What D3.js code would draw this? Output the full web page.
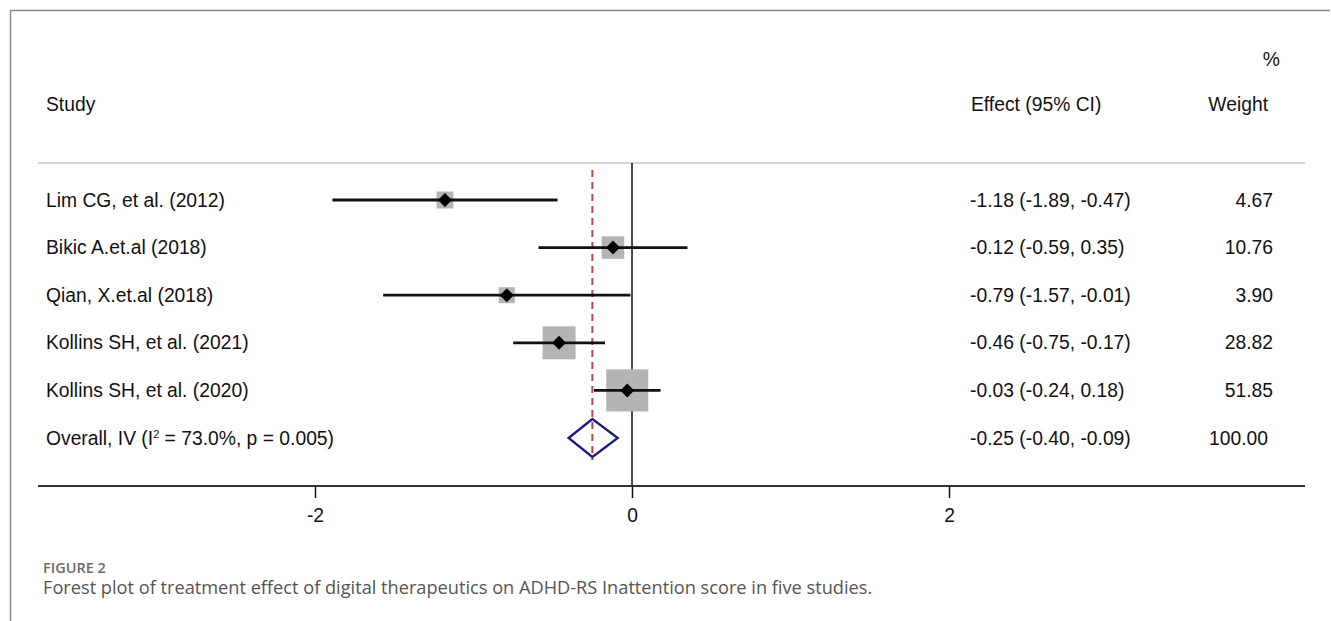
<!DOCTYPE html>
<html>
<head>
<meta charset="utf-8">
<script src="https://cdn.jsdelivr.net/npm/d3@7"></script>
<style>
  html, body { margin: 0; padding: 0; background: #fff; }
  svg { display: block; }
</style>
</head>
<body>
<svg id="chart" width="1331" height="621"></svg>
<script>
// Study-level estimates (standardised mean difference, 95% CI) and IV weights
const studies = ["Lim CG, et al. (2012)", "Bikic A.et.al (2018)", "Qian, X.et.al (2018)",
                 "Kollins SH, et al. (2021)", "Kollins SH, et al. (2020)"];
const effects = [-1.18, -0.12, -0.79, -0.46, -0.03];
const lower   = [-1.89, -0.59, -1.57, -0.75, -0.24];
const upper   = [-0.47,  0.35, -0.01, -0.17,  0.18];
const weights = [4.67, 10.76, 3.90, 28.82, 51.85];

// Pooled estimate
const overallLabel = ["Overall, IV (I", "2", " = 73.0%, p = 0.005)"];
const overallEffect = -0.25, overallLower = -0.40, overallUpper = -0.09, overallWeight = 100.00;

const xTicks = [-2, 0, 2];
const captionTitle = "FIGURE 2";
const captionText = "Forest plot of treatment effect of digital therapeutics on ADHD-RS Inattention score in five studies.";

const svg = d3.select("#chart");
const font = "'Liberation Sans', Arial, Helvetica, sans-serif";
const fs = 19.3;

// frame
svg.append("path")
  .attr("d", "M10.5,621 L10.5,10.5 L1330,10.5")
  .attr("fill", "none").attr("stroke", "#8a8a8a").attr("stroke-width", 1.5);

const x = d3.scaleLinear().domain([-2, 2]).range([315, 949]);
const rowY = d3.scaleLinear().domain([0, 5]).range([200, 438]);
const side = d3.scaleSqrt().domain([0, 100]).range([6.2, 56]);

const left = 38, right = 1305, axisY = 486, headY = 163;

// plain hyphen-minus, two decimals
const f2 = d3.format(".2f");
const fmt = v => f2(v).replace("\u2212", "-");

// headers
const hdr = svg.append("g").attr("font-family", font).attr("font-size", fs).attr("fill", "#111");
hdr.append("text").attr("x", 46).attr("y", 111).text("Study");
hdr.append("text").attr("x", 971).attr("y", 111).text("Effect (95% CI)");
hdr.append("text").attr("x", 1268).attr("y", 111).attr("text-anchor", "end").text("Weight");
hdr.append("text").attr("x", 1280).attr("y", 66).attr("text-anchor", "end").text("%");

svg.append("line").attr("x1", left).attr("x2", right).attr("y1", headY).attr("y2", headY)
  .attr("stroke", "#c8c8c8").attr("stroke-width", 1.5);

// zero reference line
svg.append("line").attr("x1", x(0)).attr("x2", x(0)).attr("y1", headY).attr("y2", axisY)
  .attr("stroke", "#111").attr("stroke-width", 1.5);

// pooled estimate reference (dashed)
svg.append("line").attr("x1", x(overallEffect)).attr("x2", x(overallEffect))
  .attr("y1", 170).attr("y2", 460)
  .attr("stroke", "#b8434a").attr("stroke-width", 2).attr("stroke-dasharray", "7,5");

// weight boxes
const rows = studies.map((s, i) => ({ s, e: effects[i], lo: lower[i], hi: upper[i], w: weights[i], i }));

svg.append("g").selectAll("rect").data(rows).join("rect")
  .attr("x", d => x(d.e) - side(d.w) / 2)
  .attr("y", d => rowY(d.i) - side(d.w) / 2)
  .attr("width", d => side(d.w)).attr("height", d => side(d.w))
  .attr("fill", "#b4b4b4");

// confidence intervals
svg.append("g").selectAll("line").data(rows).join("line")
  .attr("x1", d => x(d.lo)).attr("x2", d => x(d.hi))
  .attr("y1", d => rowY(d.i)).attr("y2", d => rowY(d.i))
  .attr("stroke", "#111").attr("stroke-width", 2.8);

// point estimates
const m = 7;
svg.append("g").selectAll("path").data(rows).join("path")
  .attr("d", d => { const cx = x(d.e), cy = rowY(d.i);
    return `M${cx - m},${cy} L${cx},${cy - m} L${cx + m},${cy} L${cx},${cy + m} Z`; })
  .attr("fill", "#000");

// overall diamond
const oy = rowY(5), dh = 19;
svg.append("path")
  .attr("d", `M${x(overallLower)},${oy} L${x(overallEffect)},${oy - dh} L${x(overallUpper)},${oy} L${x(overallEffect)},${oy + dh} Z`)
  .attr("fill", "none").attr("stroke", "#1c1c80").attr("stroke-width", 2.3);

// row text
const txt = svg.append("g").attr("font-family", font).attr("font-size", fs).attr("fill", "#111");
rows.forEach(d => {
  const y = rowY(d.i) + 6.5;
  txt.append("text").attr("x", 46).attr("y", y).text(d.s);
  txt.append("text").attr("x", 970).attr("y", y).text(`${fmt(d.e)} (${fmt(d.lo)}, ${fmt(d.hi)})`);
  txt.append("text").attr("x", 1273).attr("y", y).attr("text-anchor", "end").text(fmt(d.w));
});
const ot = txt.append("text").attr("x", 46).attr("y", oy + 6.5);
ot.append("tspan").text(overallLabel[0]);
ot.append("tspan").attr("font-size", 11).attr("dy", -7).text(overallLabel[1]);
ot.append("tspan").attr("dy", 7).text(overallLabel[2]);
txt.append("text").attr("x", 970).attr("y", oy + 6.5)
  .text(`${fmt(overallEffect)} (${fmt(overallLower)}, ${fmt(overallUpper)})`);
txt.append("text").attr("x", 1268).attr("y", oy + 6.5).attr("text-anchor", "end").text(fmt(overallWeight));

// x axis
svg.append("line").attr("x1", left).attr("x2", right).attr("y1", axisY).attr("y2", axisY)
  .attr("stroke", "#333").attr("stroke-width", 2.2);
const ax = svg.append("g").attr("transform", `translate(0,${axisY})`)
  .call(d3.axisBottom(x).tickValues(xTicks).tickSize(12).tickPadding(10).tickFormat(fmtTick));
function fmtTick(d) { return d3.format("d")(d).replace("\u2212", "-"); }
ax.select(".domain").remove();
ax.selectAll(".tick line").attr("stroke", "#111").attr("stroke-width", 1.5);
ax.selectAll(".tick text").attr("font-family", font).attr("font-size", fs).attr("fill", "#111");

// caption
svg.append("text").attr("x", 43).attr("y", 573)
  .attr("font-family", "'Open Sans', 'Noto Sans', sans-serif").attr("font-size", 14.5)
  .attr("font-weight", 600).attr("fill", "#6b6b6b").text(captionTitle);
svg.append("text").attr("x", 43).attr("y", 594)
  .attr("font-family", "'Open Sans', 'Noto Sans', sans-serif").attr("font-size", 18.2)
  .attr("fill", "#555").text(captionText);
</script>
</body>
</html>
